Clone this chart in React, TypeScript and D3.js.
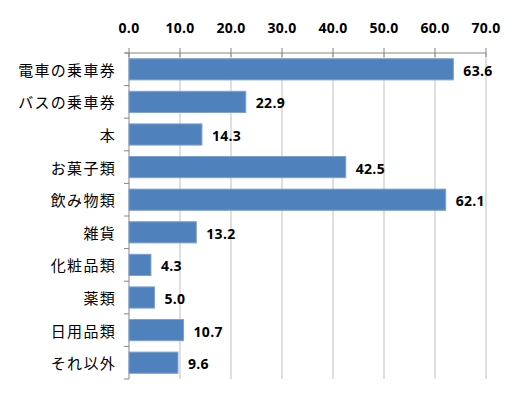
import React from 'react';
import * as d3 from 'd3';

const categories = ['電車の乗車券', 'バスの乗車券', '本', 'お菓子類', '飲み物類', '雑貨', '化粧品類', '薬類', '日用品類', 'それ以外'];
const values = [63.6, 22.9, 14.3, 42.5, 62.1, 13.2, 4.3, 5.0, 10.7, 9.6];
const xTicks = [0, 10, 20, 30, 40, 50, 60, 70];

const width = 520;
const height = 398;
const margin = { top: 53, right: 34, bottom: 19, left: 129 };

const App: React.FC = () => {
  const x = d3.scaleLinear().domain([0, 70]).range([margin.left, width - margin.right]);
  const y = d3.scaleBand<string>()
    .domain(categories)
    .range([margin.top, height - margin.bottom])
    .paddingInner(0.35)
    .paddingOuter(0.175);
  const bandEdges = d3.range(categories.length + 1).map(i => margin.top + i * (height - margin.bottom - margin.top) / categories.length);
  const num = "'Open Sans', 'DejaVu Sans', sans-serif";
  const jp = "'Noto Sans CJK JP', sans-serif";

  return (
    <svg width={width} height={height} style={{ display: 'block', margin: -8 }}>
      <rect width={width} height={height} fill="#fff" />
      {xTicks.map(t => (
        <g key={t}>
          {t > 0 && <line x1={x(t)} x2={x(t)} y1={margin.top} y2={height - margin.bottom} stroke="#bfbfbf" />}
          <line x1={x(t)} x2={x(t)} y1={margin.top - 5} y2={margin.top + 4} stroke="#868686" />
          <text x={x(t)} y={27} textAnchor="middle" dominantBaseline="central" fontFamily={num} fontWeight="bold" fontSize={14} letterSpacing={0.3} fill="#000">
            {t.toFixed(1)}
          </text>
        </g>
      ))}
      <line x1={margin.left - 4} x2={width - margin.right} y1={margin.top} y2={margin.top} stroke="#868686" />
      <line x1={margin.left} x2={margin.left} y1={margin.top} y2={height - margin.bottom} stroke="#868686" />
      {bandEdges.map((e, i) => (
        <line key={i} x1={margin.left - 5} x2={margin.left} y1={e} y2={e} stroke="#868686" />
      ))}
      {categories.map((c, i) => (
        <g key={c}>
          <rect x={x(0)} y={y(c)!} width={x(values[i]) - x(0)} height={y.bandwidth()} fill="#4f81bd" stroke="#7ea2d0" strokeWidth={1} />
          <text x={margin.left - 13} y={y(c)! + y.bandwidth() / 2} textAnchor="end" dominantBaseline="central" fontFamily={jp} fontSize={15} letterSpacing={1.3} fill="#000">
            {c}
          </text>
          <text x={x(values[i]) + 10} y={y(c)! + y.bandwidth() / 2 + 1} dominantBaseline="central" fontFamily={num} fontWeight="bold" fontSize={14} letterSpacing={0.3} fill="#000">
            {values[i].toFixed(1)}
          </text>
        </g>
      ))}
    </svg>
  );
};

export default App;
